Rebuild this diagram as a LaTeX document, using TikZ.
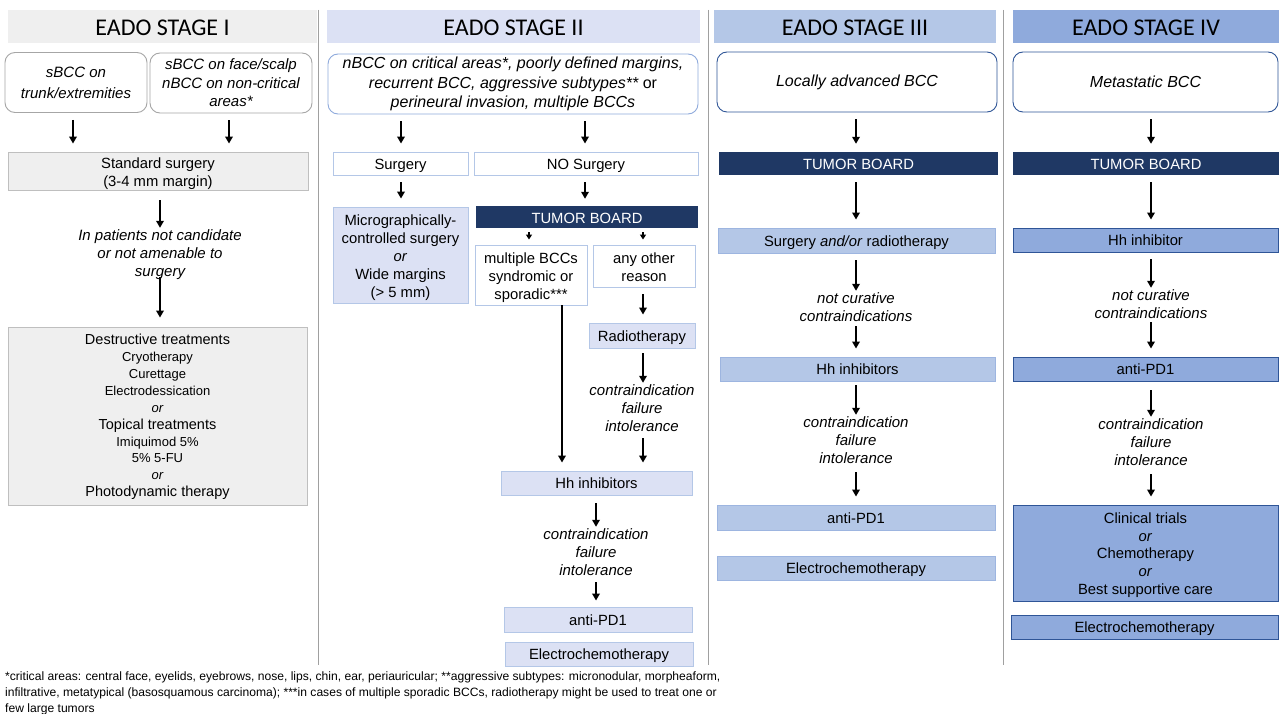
\documentclass[tikz,border=0pt]{standalone}
\usepackage{fontspec}
\setmainfont{Liberation Sans}
\newfontfamily\hdrfont{Carlito}
\usetikzlibrary{arrows.meta}
\definecolor{gfill}{HTML}{EFEFEF}
\definecolor{gline}{HTML}{BFBFBF}
\definecolor{grnd}{HTML}{A6A6A6}
\definecolor{lavfill}{HTML}{DCE1F4}
\definecolor{lavline}{HTML}{B4C7E7}
\definecolor{lavrnd}{HTML}{8FAADC}
\definecolor{s3fill}{HTML}{B4C7E7}
\definecolor{s3line}{HTML}{9DB5E0}
\definecolor{s4fill}{HTML}{8FAADC}
\definecolor{s4line}{HTML}{2F5597}
\definecolor{navy}{HTML}{1F3864}
\definecolor{sepgray}{HTML}{A0A0A0}
\begin{document}
\begin{tikzpicture}[x=1pt,y=-1pt,
  hdr/.style={rectangle, inner sep=0pt, minimum height=33pt, text height=19pt, text depth=0pt, font=\hdrfont\fontsize{24}{27}\selectfont},
  rbox/.style={rectangle, rounded corners=10pt, draw, line width=0.9pt, fill=white, inner sep=0pt, minimum height=60pt, align=center, font=\itshape\fontsize{16}{19}\selectfont},
  box/.style={rectangle, draw, line width=0.9pt, inner sep=0pt, align=center, text height=12.5pt, text depth=1pt, font=\fontsize{14.8}{18}\selectfont},
  tb/.style={rectangle, fill=navy, text=white, inner sep=0pt, minimum height=23pt, text height=12pt, text depth=0pt, font=\fontsize{14.8}{16}\selectfont},
  lbl/.style={inner sep=1pt, align=center, font=\itshape\fontsize{15}{18}\selectfont},
  arr/.style={-{Triangle[width=7.5pt,length=7pt]}, line width=1.8pt, shorten <=7pt, shorten >=8pt},
  sep/.style={draw=sepgray, line width=0.8pt}]
\useasboundingbox (0,0) rectangle (1279,714);
\fill[white] (0,0) rectangle (1279,714);

% separators
\draw[sep] (318,10) -- (318,665);
\draw[sep] (708,10) -- (708,665);
\draw[sep] (1003,10) -- (1003,665);

% column guides
\coordinate (c1a) at (73,0);
\coordinate (c1b) at (229,0);
\coordinate (c1) at (160,0);
\coordinate (c2a) at (401,0);
\coordinate (c2b) at (585,0);
\coordinate (c2l) at (529,0);
\coordinate (c2r) at (643,0);
\coordinate (c2m) at (562,0);
\coordinate (c2h) at (596,0);
\coordinate (c3) at (856,0);
\coordinate (c4) at (1151,0);

% ===== STAGE I =====
\node[hdr, fill=gfill, minimum width=309pt] (s1h) at (162.5,26.5) {EADO STAGE I};
\node[rbox, draw=grnd, minimum width=142pt, font=\itshape\fontsize{15}{21}\selectfont] (s1a) at (76,82.5) {sBCC on\\trunk/extremities};
\node[rbox, draw=grnd, minimum width=162pt, font=\itshape\fontsize{15}{18.5}\selectfont] (s1b) at (231,83) {sBCC on face/scalp\\nBCC on non-critical\\areas*};
\node[box, draw=gline, fill=gfill, minimum width=300pt, minimum height=38pt, text height=31pt, font=\fontsize{14.8}{17.5}\selectfont] (s1s) at (158,171) {Standard surgery\\(3-4 mm margin)};
\node[lbl] (s1t) at (160,255) {In patients not candidate\\or not amenable to\\surgery};
\node[box, draw=gline, fill=gfill, minimum width=299pt, minimum height=178pt, text height=162.5pt, font=\fontsize{14}{16.9}\selectfont] (s1d) at (157.5,416)
 {{\fontsize{14.5}{16.9}\selectfont Destructive treatments}\\
  {\fontsize{13}{16.9}\selectfont Cryotherapy}\\
  {\fontsize{13}{16.9}\selectfont Curettage}\\
  {\fontsize{13}{16.9}\selectfont Electrodessication}\\
  {\itshape\fontsize{13}{16.9}\selectfont or}\\
  {\fontsize{14.5}{16.9}\selectfont Topical treatments}\\
  {\fontsize{13}{16.9}\selectfont Imiquimod 5\%}\\
  {\fontsize{13}{16.9}\selectfont 5\% 5-FU}\\
  {\itshape\fontsize{13}{16.9}\selectfont or}\\
  {\fontsize{14.5}{16.9}\selectfont Photodynamic therapy}};
\draw[arr] (s1a.south -| c1a) -- (s1s.north -| c1a);
\draw[arr] (s1b.south -| c1b) -- (s1s.north -| c1b);
\draw[arr, shorten <=10pt, shorten >=1pt] (s1s.south -| c1) -- (s1t.north -| c1);
\draw[arr, shorten <=-4pt, shorten >=9pt] (s1t.south -| c1) -- (s1d.north -| c1);

% ===== STAGE II =====
\node[hdr, fill=lavfill, minimum width=373pt] (s2h) at (513.5,26.5) {EADO STAGE II};
\node[rbox, draw=lavrnd, minimum width=370pt, font=\itshape\fontsize{16}{19.5}\selectfont] (s2a) at (513,84)
 {nBCC on critical areas*, poorly defined margins,\\recurrent BCC, aggressive subtypes** {\upshape or}\\perineural invasion, multiple BCCs};
\node[box, draw=lavline, fill=white, minimum width=135pt, minimum height=23pt] (s2s) at (400.5,163.5) {Surgery};
\node[box, draw=lavline, fill=white, minimum width=224pt, minimum height=23pt] (s2n) at (586,163.5) {NO Surgery};
\node[box, draw=lavline, fill=lavfill, minimum width=135pt, minimum height=96pt, text height=86pt] (s2m) at (400.5,255)
 {Micrographically-\\controlled surgery\\\textit{or}\\Wide margins\\(> 5 mm)};
\node[tb, minimum width=222pt, minimum height=22pt] (s2tb) at (587,217) {TUMOR BOARD};
\node[box, draw=lavline, fill=white, minimum width=112pt, minimum height=60pt, text height=50pt] (s2mb) at (531,275) {multiple BCCs\\syndromic or\\sporadic***};
\node[box, draw=lavline, fill=white, minimum width=102pt, minimum height=42pt, text height=32pt] (s2ao) at (644,266) {any other\\reason};
\node[box, draw=lavline, fill=lavfill, minimum width=106pt, minimum height=25pt] (s2rt) at (642,335.5) {Radiotherapy};
\node[lbl] (s2c1) at (642,408.5) {contraindication\\failure\\intolerance};
\node[box, draw=lavline, fill=lavfill, minimum width=191pt, minimum height=24pt] (s2hh) at (596.5,483) {Hh inhibitors};
\node[lbl] (s2c2) at (596,552.5) {contraindication\\failure\\intolerance};
\node[box, draw=lavline, fill=lavfill, minimum width=188pt, minimum height=25pt] (s2pd) at (598,619.5) {anti-PD1};
\node[box, draw=lavline, fill=lavfill, minimum width=188pt, minimum height=24pt] (s2ec) at (599,654) {Electrochemotherapy};
\draw[arr] (s2a.south -| c2a) -- (s2s.north -| c2a);
\draw[arr] (s2a.south -| c2b) -- (s2n.north -| c2b);
\draw[arr] (s2s.south -| c2a) -- (s2m.north -| c2a);
\draw[arr, shorten >=7pt] (s2n.south -| c2b) -- (s2tb.north -| c2b);
\draw[arr, line width=1.5pt, -{Triangle[width=6pt,length=5pt]}, shorten <=4pt, shorten >=5pt] (s2tb.south -| c2l) -- (s2mb.north -| c2l);
\draw[arr, line width=1.5pt, -{Triangle[width=6pt,length=5pt]}, shorten <=4pt, shorten >=5pt] (s2tb.south -| c2r) -- (s2ao.north -| c2r);
\draw[arr] (s2ao.south -| c2r) -- (s2rt.north -| c2r);
\draw[arr, shorten <=0pt] (s2mb.south -| c2m) -- (s2hh.north -| c2m);
\draw[arr, shorten <=5pt, shorten >=1pt] (s2rt.south -| c2r) -- (s2c1.north -| c2r);
\draw[arr, shorten <=5pt] (s2c1.south -| c2r) -- (s2hh.north -| c2r);
\draw[arr, shorten <=8pt, shorten >=1pt] (s2hh.south -| c2h) -- (s2c2.north -| c2h);
\draw[arr, shorten <=5pt, shorten >=6pt] (s2c2.south -| c2h) -- (s2pd.north -| c2h);

% ===== STAGE III =====
\node[hdr, fill=s3fill, minimum width=282pt] (s3h) at (855,26.5) {EADO STAGE III};
\node[rbox, draw=s4line, minimum width=280pt] (s3a) at (857,82) {Locally advanced BCC};
\node[tb, minimum width=279pt] (s3tb) at (858.5,163.5) {TUMOR BOARD};
\node[box, draw=s3line, fill=s3fill, minimum width=277pt, minimum height=25pt] (s3sr) at (856.5,240.5) {Surgery \textit{and/or} radiotherapy};
\node[lbl] (s3nc) at (856,307.5) {not curative\\contraindications};
\node[box, draw=s3line, fill=s3fill, minimum width=275pt, minimum height=24pt] (s3hh) at (857.5,369) {Hh inhibitors};
\node[lbl] (s3c) at (856,440.5) {contraindication\\failure\\intolerance};
\node[box, draw=s3line, fill=s3fill, minimum width=278pt, minimum height=25pt] (s3pd) at (856,517.5) {anti-PD1};
\node[box, draw=s3line, fill=s3fill, minimum width=278pt, minimum height=24pt] (s3ec) at (856,568) {Electrochemotherapy};
\draw[arr] (s3a.south -| c3) -- (s3tb.north -| c3);
\draw[arr] (s3tb.south -| c3) -- (s3sr.north -| c3);
\draw[arr, shorten >=1pt] (s3sr.south -| c3) -- (s3nc.north -| c3);
\draw[arr, shorten <=3pt] (s3nc.south -| c3) -- (s3hh.north -| c3);
\draw[arr, shorten <=4pt, shorten >=1pt] (s3hh.south -| c3) -- (s3c.north -| c3);
\draw[arr, shorten <=7pt] (s3c.south -| c3) -- (s3pd.north -| c3);

% ===== STAGE IV =====
\node[hdr, fill=s4fill, minimum width=266pt] (s4h) at (1146,26.5) {EADO STAGE IV};
\node[rbox, draw=s4line, minimum width=265pt] (s4a) at (1145.5,82) {Metastatic BCC};
\node[tb, minimum width=266pt] (s4tb) at (1146,163.5) {TUMOR BOARD};
\node[box, draw=s4line, fill=s4fill, minimum width=265pt, minimum height=24pt] (s4hh) at (1145.5,240) {Hh inhibitor};
\node[lbl] (s4nc) at (1151,304.5) {not curative\\contraindications};
\node[box, draw=s4line, fill=s4fill, minimum width=265pt, minimum height=24pt] (s4pd) at (1145.5,369) {anti-PD1};
\node[lbl] (s4c) at (1151,442.5) {contraindication\\failure\\intolerance};
\node[box, draw=s4line, fill=s4fill, minimum width=265pt, minimum height=96pt, text height=84pt, font=\fontsize{14.8}{17.8}\selectfont] (s4ct) at (1145.5,553)
 {Clinical trials\\\textit{or}\\Chemotherapy\\\textit{or}\\Best supportive care};
\node[box, draw=s4line, fill=s4fill, minimum width=267pt, minimum height=24pt] (s4ec) at (1144.5,627) {Electrochemotherapy};
\draw[arr] (s4a.south -| c4) -- (s4tb.north -| c4);
\draw[arr] (s4tb.south -| c4) -- (s4hh.north -| c4);
\draw[arr, shorten >=1pt] (s4hh.south -| c4) -- (s4nc.north -| c4);
\draw[arr, shorten <=2pt] (s4nc.south -| c4) -- (s4pd.north -| c4);
\draw[arr, shorten <=9pt, shorten >=1pt] (s4pd.south -| c4) -- (s4c.north -| c4);
\draw[arr, shorten <=7pt] (s4c.south -| c4) -- (s4ct.north -| c4);

% footnote
\node[anchor=north west, inner sep=0pt, align=left, font=\fontsize{12.1}{16}\selectfont] (fn) at (5,672)
 {*critical areas: central face, eyelids, eyebrows, nose, lips, chin, ear, periauricular; **aggressive subtypes: micronodular, morpheaform,\\
  infiltrative, metatypical (basosquamous carcinoma); ***in cases of multiple sporadic BCCs, radiotherapy might be used to treat one or\\
  few large tumors};
\end{tikzpicture}
\end{document}
